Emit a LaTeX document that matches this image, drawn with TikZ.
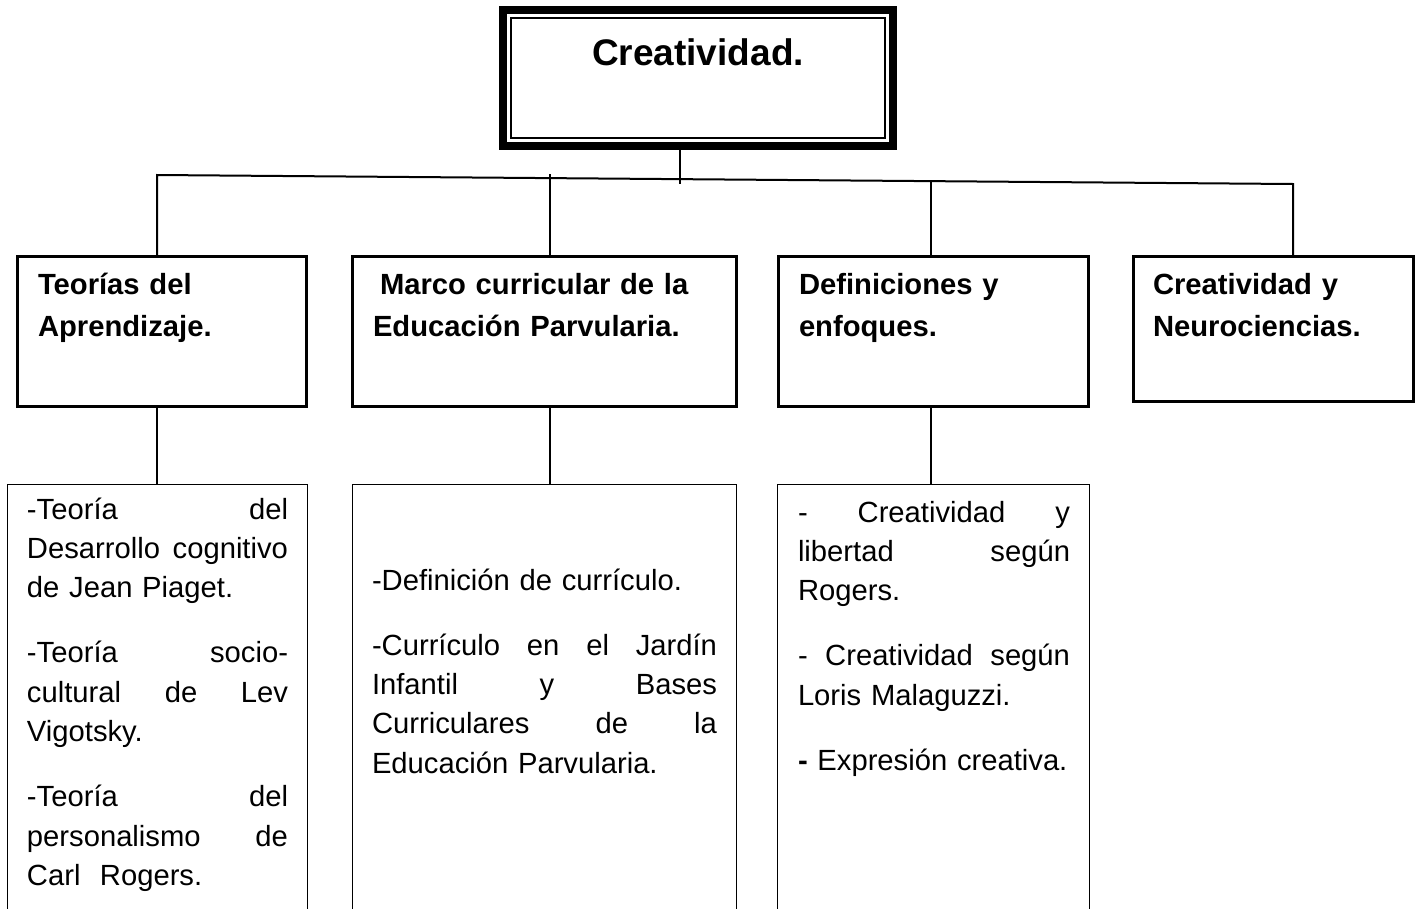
\documentclass[tikz,border=0pt]{standalone}
\usepackage{fontspec}
\setmainfont{Liberation Sans}

\begin{document}
\begin{tikzpicture}[x=1pt, y=-1pt,
    every node/.style={inner sep=0pt, outer sep=0pt},
    topbox/.style={draw, line width=8pt, anchor=north west},
    headbox/.style={draw, line width=3pt, anchor=north west},
    lowbox/.style={draw, line width=1.2pt, anchor=north west, minimum height=500pt},
    titletext/.style={anchor=base, font=\fontsize{37}{44}\selectfont\bfseries},
    headtext/.style={anchor=base west, text width=360pt, align=left, font=\fontsize{29.2}{42}\selectfont\bfseries},
    listtext/.style={anchor=base west, align=left, font=\fontsize{29.2}{39.3}\selectfont},
    link/.style={line width=2pt}]
    \useasboundingbox (0,0) rectangle (1422,908);

    % main box
    \node[topbox, minimum width=390pt, minimum height=136pt] (crea) at (503,10) {};
    \draw[line width=2pt] ([xshift=8pt,yshift=-8pt]crea.north west) rectangle ([xshift=-8pt,yshift=8pt]crea.south east);
    \node[titletext] (creaT) at (698,65) {Creatividad.};

    % second level
    \node[headbox, minimum width=289pt, minimum height=149.5pt] (teo) at (17.5,256.5) {};
    \node[headbox, minimum width=384pt, minimum height=149.5pt] (marco) at (352.5,256.5) {};
    \node[headbox, minimum width=310pt, minimum height=149.5pt] (defi) at (778.5,256.5) {};
    \node[headbox, minimum width=280pt, minimum height=145pt] (neuro) at (1133.5,256.5) {};

    \node[headtext] (teoT) at (38,294) {Teorías del\\Aprendizaje.};
    \node[headtext] (marcoT) at (373,294) {\hspace*{7pt}Marco curricular de la\\Educación Parvularia.};
    \node[headtext] (defiT) at (799,294) {Definiciones y\\enfoques.};
    \node[headtext] (neuroT) at (1153,294) {Creatividad y\\Neurociencias.};

    % third level
    \node[lowbox, minimum width=300pt] (lowA) at (7.5,484.5) {};
    \node[lowbox, minimum width=384pt] (lowB) at (352.5,484.5) {};
    \node[lowbox, minimum width=312pt] (lowC) at (777.5,484.5) {};

    \node[listtext, text width=261pt] (lowAT) at (27,519) {%
        -Teoría\hfill del\\
        Desarrollo\hfill cognitivo\\
        de Jean Piaget.\\[26pt]
        -Teoría\hfill socio-\\
        cultural\hfill de\hfill Lev\\
        Vigotsky.\\[26pt]
        -Teoría\hfill del\\
        personalismo\hfill de\\
        Carl\ \ Rogers.};
    \node[listtext, text width=345pt] (lowBT) at (372,590) {%
        -Definición de currículo.\\[26pt]
        -Currículo\hfill en\hfill el\hfill Jardín\\
        Infantil\hfill y\hfill Bases\\
        Curriculares\hfill de\hfill la\\
        Educación Parvularia.};
    \node[listtext, text width=272pt] (lowCT) at (798,522) {%
        -\hfill Creatividad\hfill y\\
        libertad\hfill según\\
        Rogers.\\[26pt]
        -\hfill Creatividad\hfill según\\
        Loris Malaguzzi.\\[26pt]
        \textbf{-} Expresión creativa.};

    % connectors
    \coordinate (busL) at (157,175);
    \coordinate (busR) at (1293,184);
    \coordinate (tapB) at (550,174);
    \coordinate (tapC) at (931,182);
    \coordinate (tapT) at (680,184);

    \draw[link] (tapT |- crea.south) -- (tapT);
    \draw[link] (busL |- teo.north) -- (busL) -- (busR) -- (busR |- neuro.north);
    \draw[link] (tapB) -- (tapB |- marco.north);
    \draw[link] (tapC) -- (tapC |- defi.north);

    \draw[link] (busL |- teo.south) -- (busL |- lowA.north);
    \draw[link] (tapB |- marco.south) -- (tapB |- lowB.north);
    \draw[link] (tapC |- defi.south) -- (tapC |- lowC.north);
\end{tikzpicture}
\end{document}
